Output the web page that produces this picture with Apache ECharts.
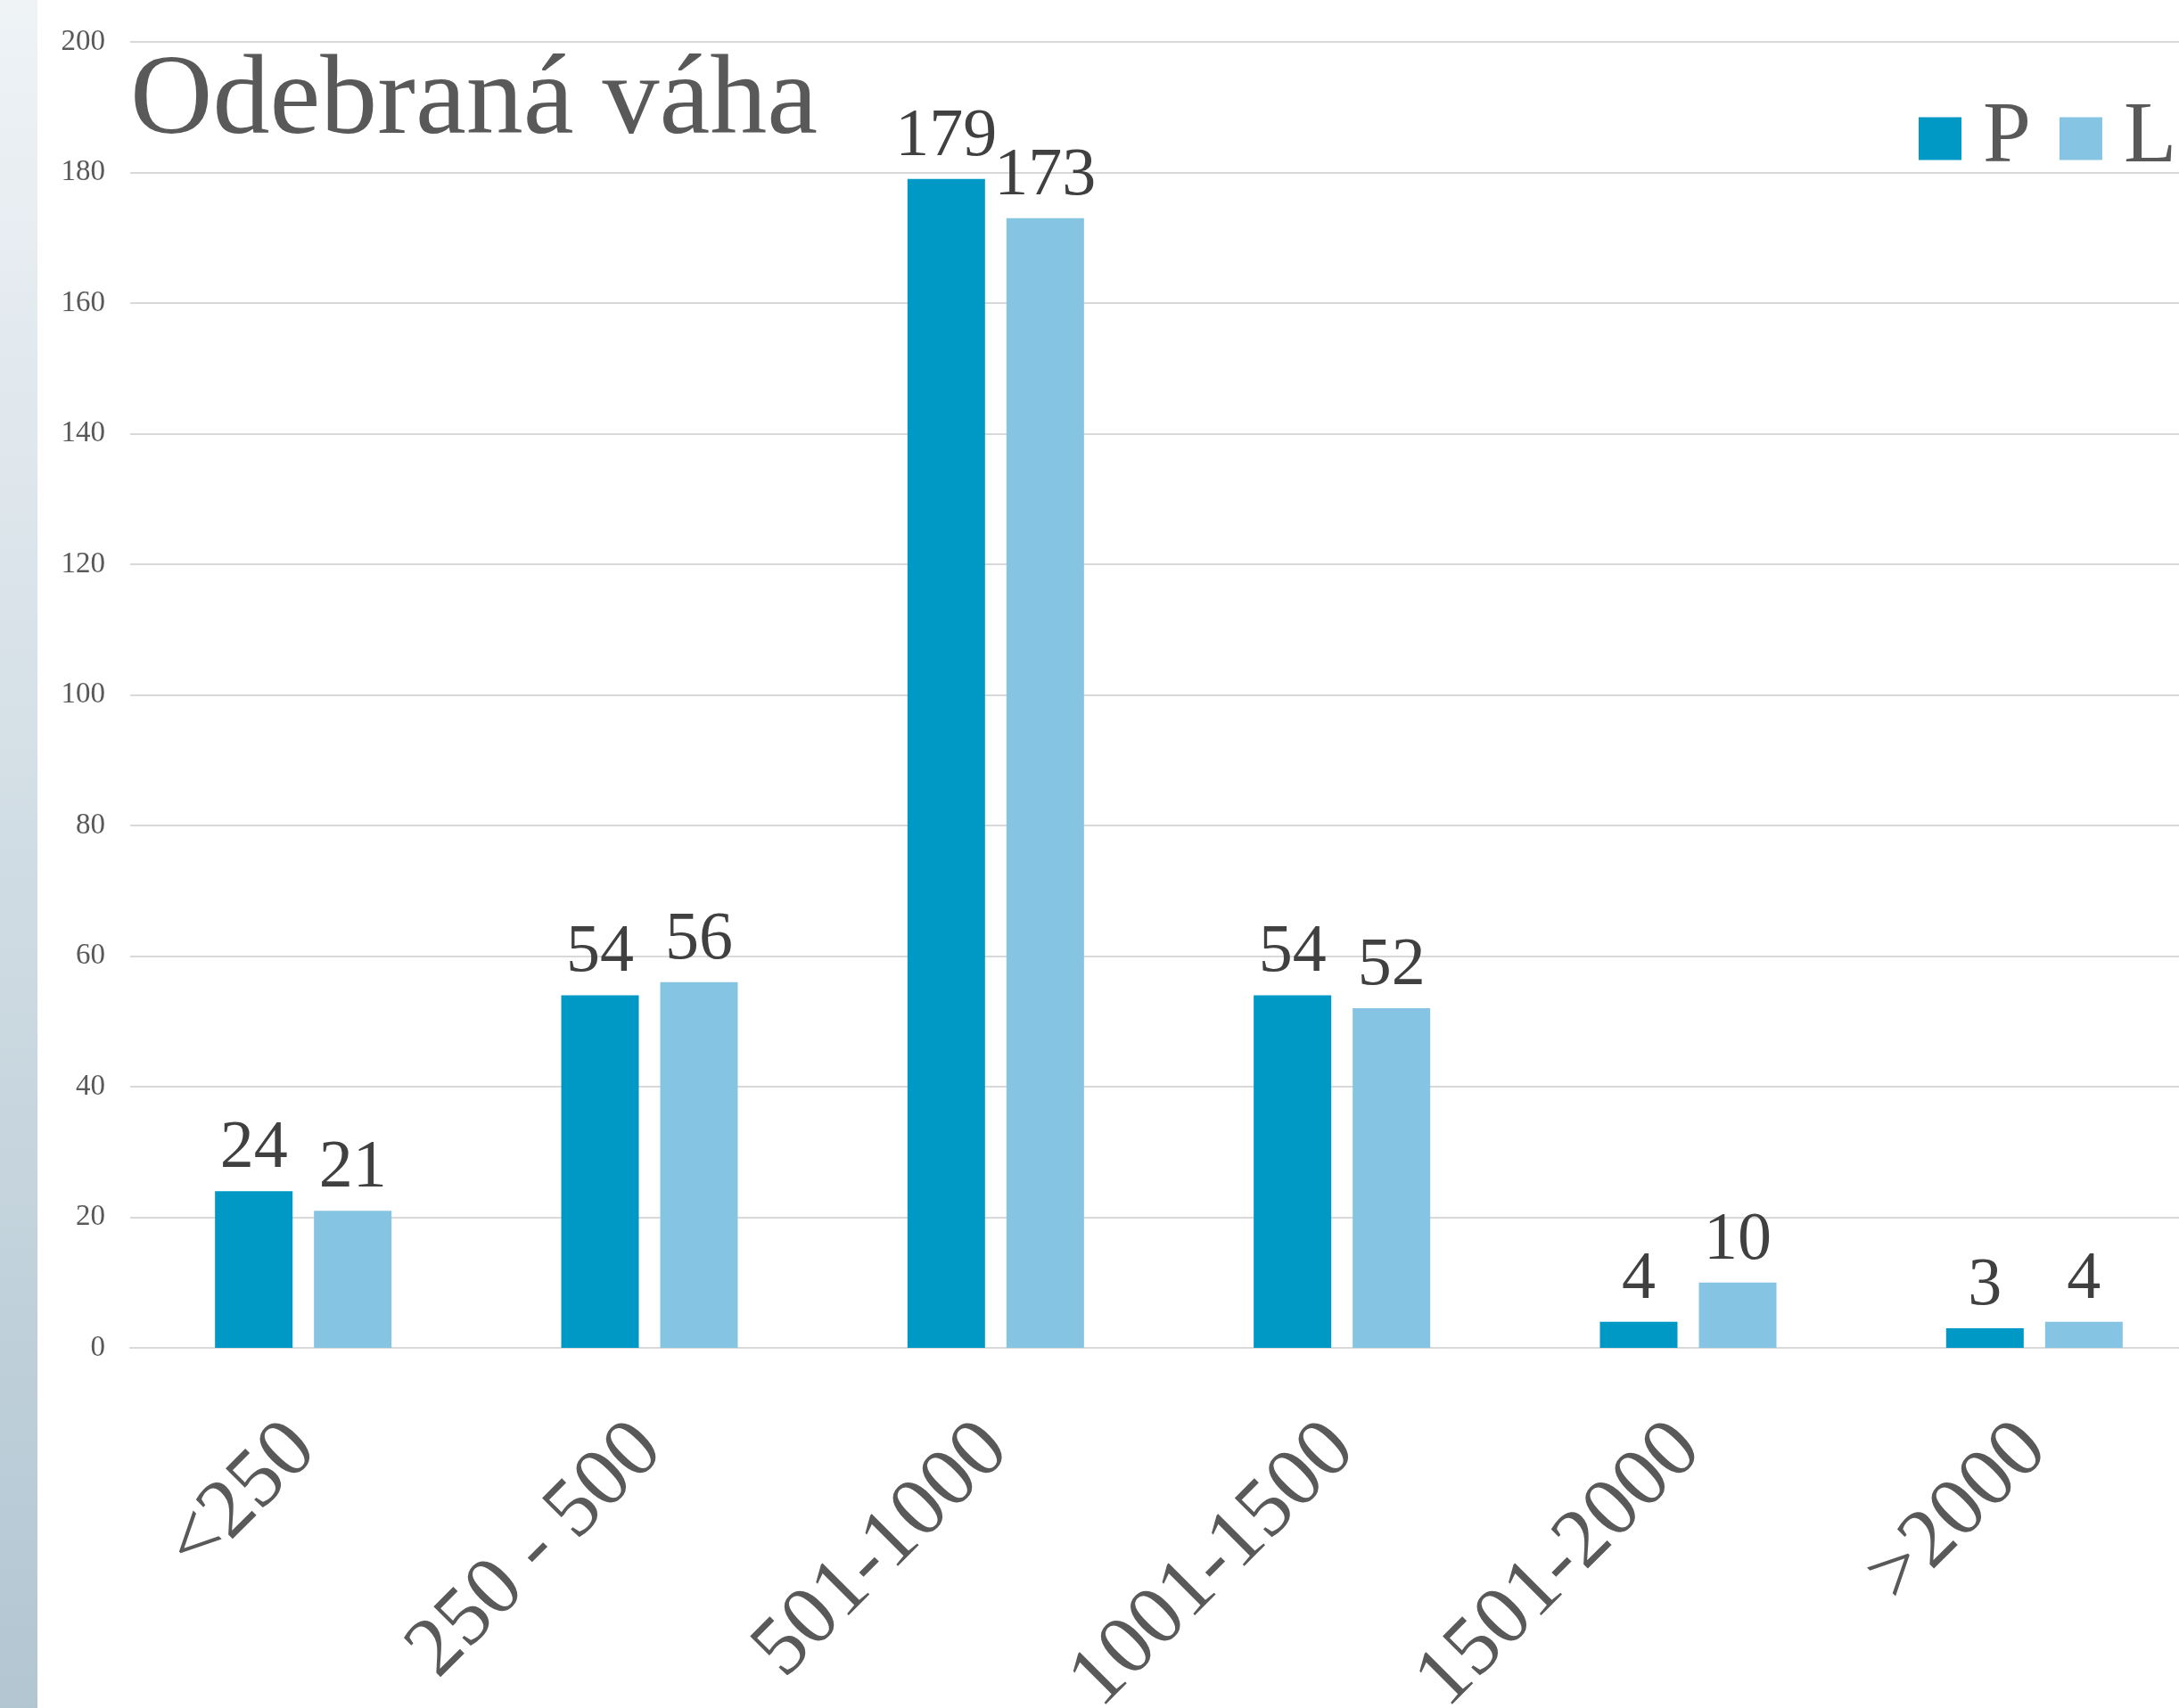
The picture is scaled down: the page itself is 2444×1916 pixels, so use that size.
<!DOCTYPE html>
<html>
<head>
<meta charset="utf-8">
<title>Odebraná váha</title>
<script src="https://cdn.jsdelivr.net/npm/echarts@6/dist/echarts.min.js"></script>
<style>
	html, body { margin: 0; padding: 0; background: #fff; }
	#chart { width: 2444px; height: 1916px; }
</style>
</head>
<body>
<div id="chart"></div>
<script>
'use strict';

var categories = ['<250', '250 - 500', '501-1000', '1001-1500', '1501-2000', '>2000'];
var seriesNames = ['P', 'L'];
var valuesP = [24, 54, 179, 54, 4, 3];
var valuesL = [21, 56, 173, 52, 10, 4];
var yTicks = [0, 20, 40, 60, 80, 100, 120, 140, 160, 180, 200];

var FONT = "'Liberation Serif', 'Times New Roman', serif";
var colorP = '#0099C6';
var colorL = '#86C4E4';

var dom = document.getElementById('chart');
var myChart = echarts.init(dom, null, { renderer: 'canvas' });

function barSeries(name, data, color) {
	return {
		name: name,
		type: 'bar',
		data: data,
		barWidth: 87,
		barGap: '27.6%',
		itemStyle: { color: color },
		label: {
			show: true,
			position: 'top',
			distance: 9,
			fontFamily: FONT,
			fontSize: 76,
			color: '#404040'
		}
	};
}

var option = {
	animation: false,
	backgroundColor: '#ffffff',
	title: {
		text: 'Odebraná váha',
		left: 146,
		top: 51,
		padding: 0,
		textStyle: {
			fontFamily: FONT,
			fontSize: 128,
			fontWeight: 'normal',
			color: '#595959'
		}
	},
	legend: {
		data: seriesNames,
		left: 2152,
		top: 107,
		padding: 0,
		icon: 'rect',
		itemWidth: 48,
		itemHeight: 48,
		itemGap: 32,
		textStyle: {
			fontFamily: FONT,
			fontSize: 97,
			color: '#595959',
			padding: [0, 0, 0, 19]
		}
	},
	// left strip of the slide
	graphic: [{
		type: 'rect',
		left: 0,
		top: 0,
		shape: { width: 42, height: 1916 },
		style: {
			fill: new echarts.graphic.LinearGradient(0, 0, 0, 1, [
				{ offset: 0, color: '#eff3f6' },
				{ offset: 1, color: '#b2c6d2' }
			])
		},
		z: -1
	}],
	grid: {
		left: 146,
		top: 47,
		width: 2330,
		height: 1465,
		containLabel: false,
		outerBoundsMode: 'none'
	},
	xAxis: {
		type: 'category',
		data: categories,
		axisLine: { show: true, lineStyle: { color: '#d9d9d9', width: 2 } },
		axisTick: { show: false },
		axisLabel: {
			interval: 0,
			rotate: 45,
			margin: 100,
			fontFamily: FONT,
			fontSize: 94,
			color: '#595959'
		}
	},
	yAxis: {
		type: 'value',
		min: yTicks[0],
		max: yTicks[yTicks.length - 1],
		interval: yTicks[1] - yTicks[0],
		axisLine: { show: false },
		axisTick: { show: false },
		splitLine: { lineStyle: { color: '#d9d9d9', width: 2 } },
		axisLabel: {
			margin: 28,
			fontFamily: FONT,
			fontSize: 33,
			color: '#595959'
		}
	},
	series: [
		barSeries(seriesNames[0], valuesP, colorP),
		barSeries(seriesNames[1], valuesL, colorL)
	]
};

myChart.setOption(option, true);
</script>
</body>
</html>
